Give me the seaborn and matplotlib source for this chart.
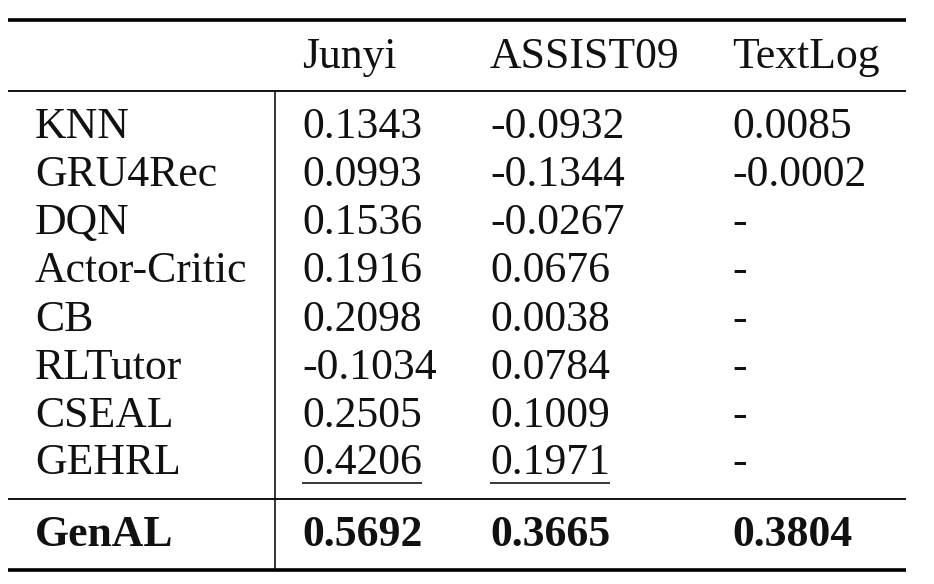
import matplotlib
matplotlib.use("Agg")
import matplotlib.pyplot as plt
import seaborn as sns

# --- Dados da tabela ---
colunas = ["Junyi", "ASSIST09", "TextLog"]
metodos = ["KNN", "GRU4Rec", "DQN", "Actor-Critic", "CB", "RLTutor", "CSEAL", "GEHRL"]
junyi = ["0.1343", "0.0993", "0.1536", "0.1916", "0.2098", "-0.1034", "0.2505", "0.4206"]
assist09 = ["-0.0932", "-0.1344", "-0.0267", "0.0676", "0.0038", "0.0784", "0.1009", "0.1971"]
textlog = ["0.0085", "-0.0002", "-", "-", "-", "-", "-", "-"]
melhor_metodo = "GenAL"
melhor_valores = ["0.5692", "0.3665", "0.3804"]
sublinhados = {("GEHRL", 0), ("GEHRL", 1)}  # segundo melhor

sns.set_theme(style="white")
plt.rcParams["font.family"] = ["Liberation Serif", "DejaVu Serif"]

W, H = 934, 584
fig = plt.figure(figsize=(W / 100, H / 100), dpi=100)
ax = fig.add_axes([0, 0, 1, 1])
ax.set_xlim(0, W)
ax.set_ylim(H, 0)
ax.axis("off")

fs = 31.5
x_label = 35
x_cols = [302, 490, 732]
y_header = 57
y_rows = [127, 175, 223, 271, 320, 368, 416, 463]
y_best = 535

# --- Linhas ---
ax.hlines(20, 8, 906, color="black", lw=2.6)
ax.hlines(91, 8, 906, color="black", lw=1.3)
ax.hlines(499, 8, 906, color="black", lw=1.3)
ax.hlines(570, 8, 906, color="black", lw=2.6)
ax.vlines(275, 91, 570, color="black", lw=1.1)

txt_kw = dict(fontsize=fs, color="#111111", va="center", ha="left")

for c, x in zip(colunas, x_cols):
    ax.text(x, y_header, c, **txt_kw)

fig.canvas.draw()
renderer = fig.canvas.get_renderer()

for i, m in enumerate(metodos):
    ax.text(x_label, y_rows[i], m, **txt_kw)
    for j, serie in enumerate([junyi, assist09, textlog]):
        t = ax.text(x_cols[j], y_rows[i], serie[i], **txt_kw)
        if (m, j) in sublinhados:
            bb = t.get_window_extent(renderer=renderer)
            ax.hlines(483, x_cols[j], x_cols[j] + bb.width, color="black", lw=1.1)

ax.text(x_label, y_best, melhor_metodo, fontweight="bold", **txt_kw)
for j, v in enumerate(melhor_valores):
    ax.text(x_cols[j], y_best, v, fontweight="bold", **txt_kw)

fig.savefig("out.png", dpi=100, facecolor="white")
